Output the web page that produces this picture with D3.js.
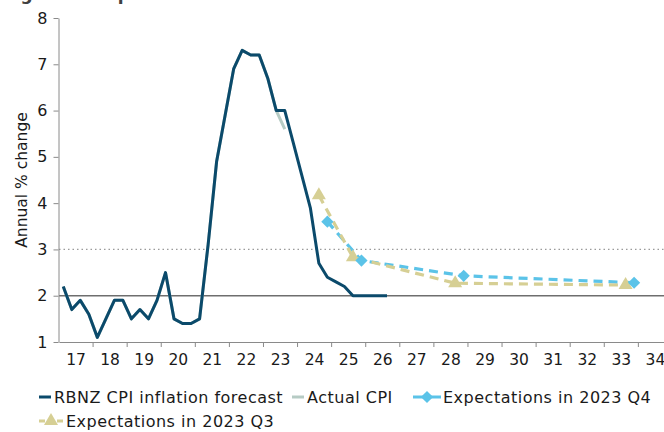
<!DOCTYPE html>
<html><head><meta charset="utf-8">
<script src="https://cdn.jsdelivr.net/npm/d3@7"></script>
<style>
html,body{margin:0;padding:0;background:#fff;overflow:hidden}
text{font-family:"DejaVu Sans",Verdana,sans-serif;fill:#1a1a1a}
</style></head>
<body><svg id="c" width="664" height="432"></svg>
<script>
// ---- data ----
const years = d3.range(2017, 2035);
const yearLabels = years.map(y => String(y).slice(2));
const quarters = [];
years.forEach(y => [1,2,3,4].forEach(q => quarters.push(y + "Q" + q)));

// RBNZ CPI inflation forecast, 2017Q1 .. 2026Q3
const rbnzValues = [2.2,1.7,1.9,1.6, 1.1,1.5,1.9,1.9, 1.5,1.7,1.5,1.9, 2.5,1.5,1.4,1.4,
  1.5,3.1,4.9,5.9, 6.9,7.3,7.2,7.2, 6.7,6.0,6.0,5.3, 4.6,3.9,2.7,2.4, 2.3,2.2,2.0,2.0, 2.0,2.0,2.0];
// Actual CPI, 2017Q1 .. 2023Q3
const actualValues = [2.2,1.7,1.9,1.6, 1.1,1.5,1.9,1.9, 1.5,1.7,1.5,1.9, 2.5,1.5,1.4,1.4,
  1.5,3.1,4.9,5.9, 6.9,7.3,7.2,7.2, 6.7,6.0,5.6];
const expQ4Quarters = ["2024Q4","2025Q4","2028Q4","2033Q4"];
const expQ4Values = [3.60, 2.76, 2.43, 2.28];
const expQ3Quarters = ["2024Q3","2025Q3","2028Q3","2033Q3"];
const expQ3Values = [4.17, 2.83, 2.27, 2.23];
const yTicks = [1,2,3,4,5,6,7,8];
const seriesNames = ["RBNZ CPI inflation forecast","Actual CPI","Expectations in 2023 Q4","Expectations in 2023 Q3"];

// ---- chart ----
const svg = d3.select("#c");
const C = {rbnz:"#0b4a6b", actual:"#b6cbc4", q4:"#5bc3e8", q3:"#d6cf94"};
const x0 = 59, qw = 8.52;
const xq = d3.scaleBand().domain(quarters).range([x0, x0 + qw*quarters.length]);
const xy = d3.scaleBand().domain(yearLabels).range([x0, x0 + qw*quarters.length]);
const y = d3.scaleLinear().domain([1,8]).range([342,18]);
const px = q => xq(q) + xq.bandwidth()/2;

// title (clipped at top, as in the reference)
svg.append("text").attr("x",3).attr("y",0).style("font-weight","bold").style("font-size","17px")
  .style("fill","#404040").text("Figure 2: Expectations");

// reference lines
svg.append("line").attr("x1",x0).attr("x2",664).attr("y1",y(3)).attr("y2",y(3))
  .attr("stroke","#9a9a9a").attr("stroke-width",1.3).attr("stroke-dasharray","1.5,3");
svg.append("line").attr("x1",x0).attr("x2",664).attr("y1",y(2)).attr("y2",y(2))
  .attr("stroke","#6e6e6e").attr("stroke-width",1.5);

// y axis
const ya = svg.append("g").attr("transform",`translate(${x0-0.5},0)`)
  .call(d3.axisLeft(y).tickValues(yTicks).tickFormat(d3.format("d")).tickSize(5).tickSizeOuter(0).tickPadding(6));
ya.select(".domain").attr("stroke","#8a8a8a");
ya.selectAll(".tick line").attr("stroke","#8a8a8a");
ya.selectAll("text").style("font-size","16px").style("fill","#1a1a1a");

// x axis
const xa = svg.append("g").attr("transform",`translate(0,${y(1)})`)
  .call(d3.axisBottom(xy).tickSize(0).tickPadding(12).tickSizeOuter(0));
xa.select(".domain").attr("stroke","#8a8a8a");
xa.selectAll("text").style("font-size","15.5px").style("fill","#1a1a1a");
svg.append("g").selectAll("line").data(yearLabels.slice(1)).join("line")
  .attr("x1",d=>xy(d)).attr("x2",d=>xy(d)).attr("y1",y(1)).attr("y2",y(1)+5)
  .attr("stroke","#8a8a8a");

// y title
svg.append("text").attr("transform","translate(22,180) rotate(-90)").attr("text-anchor","middle")
  .attr("dy","0.35em").style("font-size","15.5px").text("Annual % change");

const line = d3.line().x(d=>px(d.q)).y(d=>y(d.v));

// actual CPI (underneath)
svg.append("path").datum(actualValues.map((v,i)=>({q:quarters[i],v})))
  .attr("d",line).attr("fill","none").attr("stroke",C.actual).attr("stroke-width",3).attr("stroke-linejoin","round");
// RBNZ
svg.append("path").datum(rbnzValues.map((v,i)=>({q:quarters[i],v})))
  .attr("d",line).attr("fill","none").attr("stroke",C.rbnz).attr("stroke-width",3).attr("stroke-linejoin","round");

// expectations Q4
const q4 = expQ4Quarters.map((q,i)=>({q,v:expQ4Values[i]}));
svg.append("path").datum(q4).attr("d",line).attr("fill","none").attr("stroke",C.q4)
  .attr("stroke-width",3.2).attr("stroke-dasharray","9,6");
// expectations Q3
const q3 = expQ3Quarters.map((q,i)=>({q,v:expQ3Values[i]}));
svg.append("path").datum(q3).attr("d",line).attr("fill","none").attr("stroke",C.q3)
  .attr("stroke-width",3.2).attr("stroke-dasharray","9,6");

const diamond = d3.symbol().type(d3.symbolDiamond2).size(95);
const tri = d3.symbol().type(d3.symbolTriangle).size(85);
svg.append("g").selectAll("path").data(q3).join("path")
  .attr("transform",d=>`translate(${px(d.q)},${y(d.v)})`).attr("d",tri).attr("fill",C.q3);
svg.append("g").selectAll("path").data(q4).join("path")
  .attr("transform",d=>`translate(${px(d.q)},${y(d.v)})`).attr("d",diamond).attr("fill",C.q4);

// legend
const lg = svg.append("g");
function legText(xp, yp, t){ lg.append("text").attr("x",xp).attr("y",yp).attr("dy","0.35em")
  .style("font-size","16px").style("letter-spacing","0.5px").text(t); }
const r1 = 397, r2 = 421;
lg.append("line").attr("x1",39).attr("x2",51).attr("y1",r1).attr("y2",r1).attr("stroke",C.rbnz).attr("stroke-width",3);
legText(54, r1, seriesNames[0]);
lg.append("line").attr("x1",292).attr("x2",304).attr("y1",r1).attr("y2",r1).attr("stroke",C.actual).attr("stroke-width",3);
legText(307, r1, seriesNames[1]);
lg.append("line").attr("x1",413).attr("x2",441).attr("y1",r1).attr("y2",r1).attr("stroke",C.q4).attr("stroke-width",3);
lg.append("path").attr("transform",`translate(427,${r1})`).attr("d",diamond).attr("fill",C.q4);
legText(443, r1, seriesNames[2]);
lg.append("line").attr("x1",39).attr("x2",63).attr("y1",r2).attr("y2",r2).attr("stroke",C.q3).attr("stroke-width",3).attr("stroke-dasharray","6,3");
lg.append("path").attr("transform",`translate(51,${r2})`).attr("d",tri).attr("fill",C.q3);
legText(66, r2, seriesNames[3]);
</script></body></html>
